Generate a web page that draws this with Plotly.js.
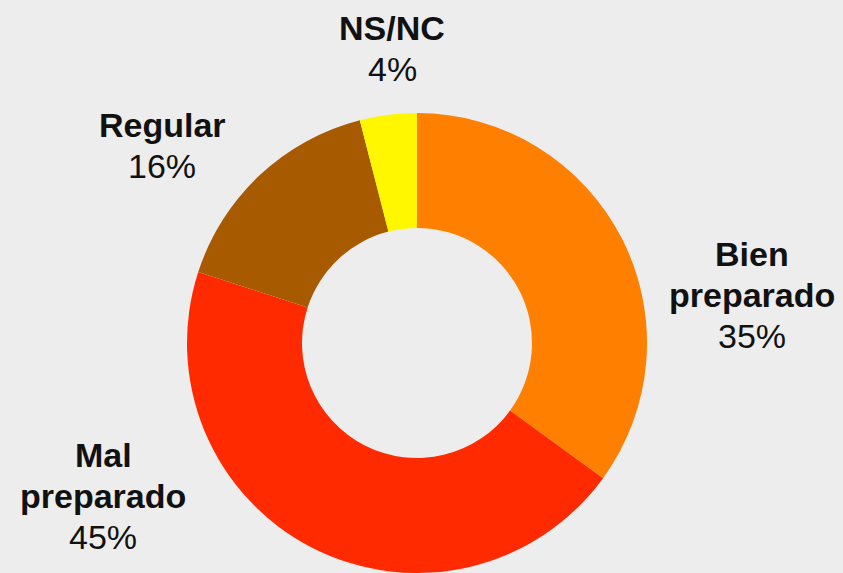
<!DOCTYPE html>
<html>
<head>
<meta charset="utf-8">
<script src="https://cdn.plot.ly/plotly-3.0.1.min.js"></script>
<style>
  html, body { margin: 0; padding: 0; background: #ededed; }
  #chart { width: 843px; height: 573px; }
</style>
</head>
<body>
<div id="chart"></div>
<script>
const categories = ['Bien preparado', 'Mal preparado', 'Regular', 'NS/NC'];
const shares = [35, 45, 16, 4];
const labelLines = [['Bien', 'preparado'], ['Mal', 'preparado'], ['Regular'], ['NS/NC']];

const sliceColors = ['#ff7f00', '#ff2a00', '#a85a00', '#fff700'];
// pixel anchor for each label block: centre x, baseline of first line
const labelAnchors = [[752, 266], [103, 467], [162, 137], [392, 40]];
const W = 843, H = 573, FONT = 34, LINE = 41;

const annotations = [];
categories.forEach((cat, i) => {
  const [cx, base] = labelAnchors[i];
  const lines = labelLines[i].map(t => ({ text: `<b>${t}</b>` }))
    .concat([{ text: `${shares[i]}%` }]);
  lines.forEach((line, k) => {
    const py = base + k * LINE - 12;
    annotations.push({
      x: cx / W, y: 1 - py / H, xref: 'paper', yref: 'paper',
      xanchor: 'center', yanchor: 'middle',
      text: line.text, showarrow: false,
      font: { family: 'Liberation Sans, Arial, sans-serif', size: FONT, color: '#111' },
    });
  });
});

const trace = {
  type: 'pie',
  labels: categories,
  values: shares,
  hole: 0.5,
  sort: false,
  direction: 'clockwise',
  rotation: 0,
  textinfo: 'none',
  hoverinfo: 'label+percent',
  marker: { colors: sliceColors, line: { width: 0 } },
  domain: { x: [187 / W, 647 / W], y: [0, 460 / H] },
};

const layout = {
  width: W, height: H,
  margin: { t: 0, b: 0, l: 0, r: 0 },
  paper_bgcolor: '#ededed',
  plot_bgcolor: '#ededed',
  showlegend: false,
  annotations,
};

Plotly.newPlot('chart', [trace], layout, { displayModeBar: false, staticPlot: true });
</script>
</body>
</html>
